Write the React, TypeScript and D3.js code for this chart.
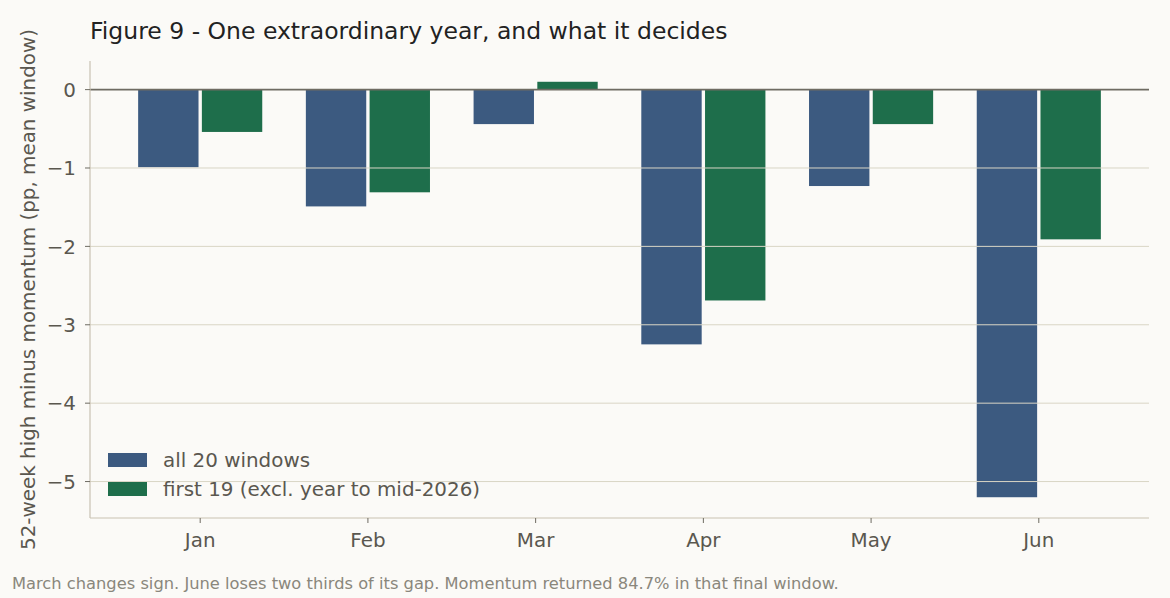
import React, { useEffect, useRef } from "react";
import * as d3 from "d3";

// values (pp, mean window)
const months = ["Jan", "Feb", "Mar", "Apr", "May", "Jun"];
const allWindows = [-0.99, -1.49, -0.44, -3.25, -1.23, -5.2];
const first19 = [-0.54, -1.31, 0.1, -2.69, -0.44, -1.91];
const yTicks = [0, -1, -2, -3, -4, -5];

const seriesNames = ["all 20 windows", "first 19 (excl. year to mid-2026)"];
const seriesColors = ["#3c5a80", "#1e6e4b"];

const W = 1170;
const H = 598;
const font = "'DejaVu Sans', sans-serif";

const App: React.FC = () => {
  const svgRef = useRef<SVGSVGElement>(null);

  useEffect(() => {
    if (!svgRef.current) return;
    const svg = d3.select(svgRef.current);
    svg.selectAll("*").remove();

    const left = 90;
    const right = 1149;
    const top = 61;
    const bottom = 518;

    const barW = 0.36;
    const off = 0.19;

    // matplotlib-like 5% padding around the data extent
    const x = d3.scaleLinear().domain([-0.657, 5.657]).range([left, right]);
    const y = d3.scaleLinear().domain([-5.465, 0.365]).range([bottom, top]);

    svg.append("rect").attr("width", W).attr("height", H).attr("fill", "#fbfaf7");

    // bars
    const series = [allWindows, first19];
    series.forEach((vals, s) => {
      const dx = s === 0 ? -off : off;
      svg
        .append("g")
        .selectAll("rect")
        .data(vals)
        .enter()
        .append("rect")
        .attr("x", (d, i) => x(i + dx - barW / 2))
        .attr("width", x(barW) - x(0))
        .attr("y", (d) => y(Math.max(0, d)))
        .attr("height", (d) => Math.abs(y(d) - y(0)))
        .attr("fill", seriesColors[s]);
    });

    // gridlines sit above the bars
    svg
      .append("g")
      .selectAll("line")
      .data(yTicks.filter((t) => t !== 0))
      .enter()
      .append("line")
      .attr("x1", left)
      .attr("x2", right)
      .attr("y1", (d) => y(d))
      .attr("y2", (d) => y(d))
      .attr("stroke", "#d9d5c5")
      .attr("stroke-width", 1);

    // zero line
    svg
      .append("line")
      .attr("x1", left)
      .attr("x2", right)
      .attr("y1", y(0))
      .attr("y2", y(0))
      .attr("stroke", "#6e6b62")
      .attr("stroke-width", 1.6);

    // spines
    svg
      .append("line")
      .attr("x1", left)
      .attr("x2", left)
      .attr("y1", top)
      .attr("y2", bottom)
      .attr("stroke", "#c9c2b2")
      .attr("stroke-width", 1.2);
    svg
      .append("line")
      .attr("x1", left)
      .attr("x2", right)
      .attr("y1", bottom)
      .attr("y2", bottom)
      .attr("stroke", "#c9c2b2")
      .attr("stroke-width", 1.2);

    const labelStyle = (sel: any) =>
      sel
        .style("font-family", font)
        .style("font-size", "19.9px")
        .style("fill", "#5a574f");

    // y ticks
    const yt = svg.append("g").selectAll("g").data(yTicks).enter().append("g");
    yt.append("line")
      .attr("x1", left - 5)
      .attr("x2", left)
      .attr("y1", (d) => y(d))
      .attr("y2", (d) => y(d))
      .attr("stroke", "#6e6b62");
    yt.append("text")
      .attr("x", left - 14)
      .attr("y", (d) => y(d))
      .attr("dy", "0.36em")
      .attr("text-anchor", "end")
      .call(labelStyle)
      .text((d) => (d < 0 ? "\u2212" + Math.abs(d) : String(d)));

    // x ticks
    const xt = svg.append("g").selectAll("g").data(months).enter().append("g");
    xt.append("line")
      .attr("x1", (d, i) => x(i))
      .attr("x2", (d, i) => x(i))
      .attr("y1", bottom)
      .attr("y2", bottom + 5)
      .attr("stroke", "#6e6b62");
    xt.append("text")
      .attr("x", (d, i) => x(i))
      .attr("y", bottom + 29)
      .attr("text-anchor", "middle")
      .call(labelStyle)
      .text((d) => d);

    // y axis label
    svg
      .append("text")
      .attr("transform", `translate(35, ${(top + bottom) / 2}) rotate(-90)`)
      .attr("text-anchor", "middle")
      .call(labelStyle)
      .text("52-week high minus momentum (pp, mean window)");

    // title
    svg
      .append("text")
      .attr("x", left)
      .attr("y", 39)
      .style("font-family", font)
      .style("font-size", "23.5px")
      .style("fill", "#222222")
      .text("Figure 9 - One extraordinary year, and what it decides");

    // legend
    const lg = svg
      .append("g")
      .selectAll("g")
      .data(seriesNames)
      .enter()
      .append("g")
      .attr("transform", (d, i) => `translate(108, ${453 + i * 29})`);
    lg.append("rect")
      .attr("width", 39)
      .attr("height", 14)
      .attr("fill", (d, i) => seriesColors[i]);
    lg.append("text")
      .attr("x", 55)
      .attr("y", 7)
      .attr("dy", "0.36em")
      .call(labelStyle)
      .text((d) => d);

    // footer note
    svg
      .append("text")
      .attr("x", 12)
      .attr("y", 589)
      .style("font-family", font)
      .style("font-size", "16.3px")
      .style("fill", "#8a877c")
      .text(
        "March changes sign. June loses two thirds of its gap. Momentum returned 84.7% in that final window."
      );
  }, []);

  return (
    <svg
      ref={svgRef}
      width={W}
      height={H}
      viewBox={`0 0 ${W} ${H}`}
      style={{ position: "absolute", left: 0, top: 0, display: "block" }}
    />
  );
};

export default App;
